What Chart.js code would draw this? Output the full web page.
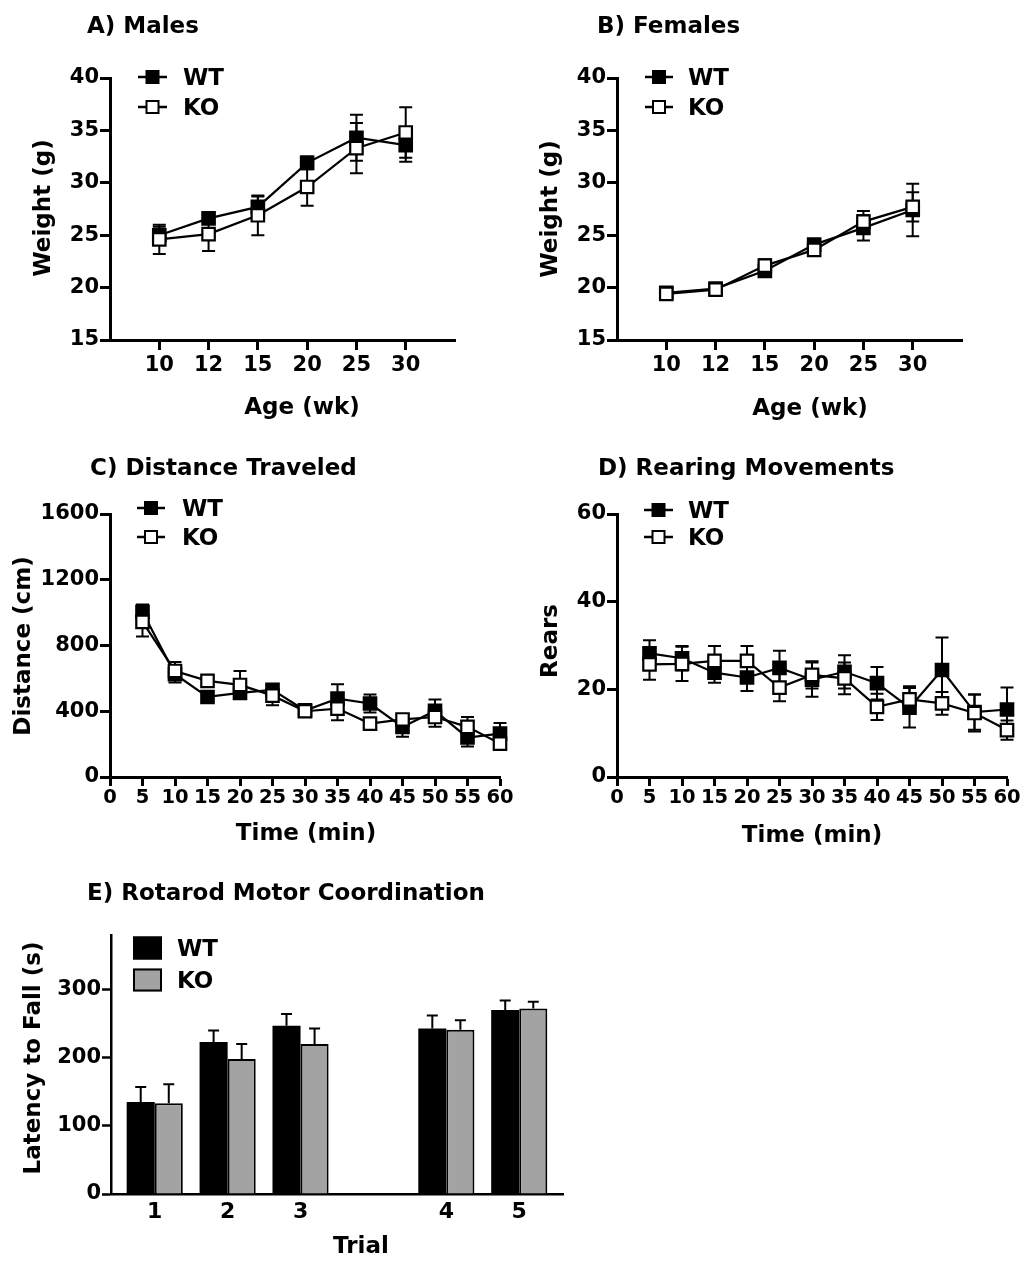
<!DOCTYPE html>
<html>
<head>
<meta charset="utf-8">
<script src="https://cdn.jsdelivr.net/npm/chart.js@4.4.1/dist/chart.umd.min.js"></script>
<style>
  html, body { margin: 0; padding: 0; background: #fff; }
  body { width: 1022px; height: 1261px; position: relative; overflow: hidden; }
  canvas { position: absolute; }
</style>
</head>
<body>
<canvas id="cA"></canvas>
<canvas id="cB"></canvas>
<canvas id="cC"></canvas>
<canvas id="cD"></canvas>
<canvas id="cE"></canvas>
<script>
// ---------------- DATA ----------------
const ageLabels = ['10', '12', '15', '20', '25', '30'];
const maleWT     = [25.0, 26.6, 27.7, 31.9, 34.3, 33.6];
const maleWTErr  = [0.8, 0.4, 1.0, 0.6, 2.2, 1.6];
const maleKO     = [24.6, 25.1, 26.9, 29.6, 33.3, 34.8];
const maleKOErr  = [1.4, 1.6, 1.9, 1.8, 2.4, 2.4];

const femaleWT    = [19.5, 19.9, 21.6, 24.1, 25.7, 27.4];
const femaleWTErr = [0.4, 0.3, 0.5, 0.5, 1.2, 2.5];
const femaleKO    = [19.4, 19.8, 22.1, 23.6, 26.3, 27.7];
const femaleKOErr = [0.4, 0.3, 0.6, 0.5, 1.0, 1.4];

const timeMin   = [5, 10, 15, 20, 25, 30, 35, 40, 45, 50, 55, 60];
const distWT    = [1005, 625, 487, 512, 530, 405, 477, 447, 305, 402, 240, 264];
const distWTErr = [45, 50, 30, 30, 28, 25, 88, 55, 60, 70, 55, 65];
const distKO    = [944, 645, 585, 560, 495, 400, 416, 325, 350, 365, 305, 203];
const distKOErr = [90, 55, 35, 85, 58, 30, 70, 30, 30, 60, 60, 30];

const rearWT    = [28.2, 27.1, 23.8, 22.7, 24.9, 22.2, 24.0, 21.4, 15.8, 24.4, 14.8, 15.4];
const rearWTErr = [3.0, 2.8, 2.3, 3.1, 3.9, 3.9, 3.8, 3.7, 4.5, 7.4, 4.0, 5.0];
const rearKO    = [25.7, 25.8, 26.5, 26.5, 20.4, 23.3, 22.5, 16.0, 17.7, 16.8, 14.6, 10.7];
const rearKOErr = [3.5, 3.9, 3.4, 3.4, 3.1, 3.1, 3.6, 3.0, 3.0, 2.6, 4.2, 2.2];

const trialLabels     = ['1', '2', '3', '4', '5'];
const trialTickLabels = ['1', '2', '3', '', '4', '5'];
const rotWT    = [135, 223, 247, 243, 270];
const rotWTErr = [22, 17, 17, 19, 14];
const rotKO    = [133, 198, 220, 241, 272];
const rotKOErr = [28, 22, 23, 14, 10];

const seriesNames = ['WT', 'KO'];

// ---------------- STYLE / HELPERS ----------------
Chart.defaults.font.family = '"DejaVu Sans", "Liberation Sans", Arial, sans-serif';
Chart.defaults.font.weight = 'bold';
Chart.defaults.color = '#000';
const FONT = '"DejaVu Sans", "Liberation Sans", Arial, sans-serif';

const decorPlugin = {
  id: 'decor',
  beforeDatasetsDraw(chart, args, o) { if (o.errMode === 'sym') drawErrors(chart, o); },
  afterDatasetsDraw(chart, args, o) { if (o.errMode === 'up') drawErrors(chart, o); },
  afterDraw(chart, args, o) {
    const ctx = chart.ctx;
    ctx.save();
    ctx.fillStyle = '#000';
    ctx.font = 'bold 23px ' + FONT;
    ctx.textBaseline = 'alphabetic';
    ctx.textAlign = 'left';
    ctx.fillText(o.title.text, o.title.x - o.L, o.title.y - o.T);
    ctx.textAlign = 'center';
    ctx.fillText(o.xTitle.text, o.xTitle.x - o.L, o.xTitle.y - o.T);
    ctx.save();
    ctx.translate(o.yTitle.x - o.L, o.yTitle.y - o.T);
    ctx.rotate(-Math.PI / 2);
    ctx.textAlign = 'center';
    ctx.fillText(o.yTitle.text, 0, 0);
    ctx.restore();
    const lg = o.legend;
    chart.data.datasets.forEach((ds, i) => {
      const y = lg.rows[i] - o.T;
      const x0 = lg.x0 - o.L, x1 = lg.x1 - o.L;
      ctx.strokeStyle = '#000';
      if (lg.type === 'line') {
        ctx.lineWidth = 2.5;
        ctx.beginPath(); ctx.moveTo(x0, y); ctx.lineTo(x1, y); ctx.stroke();
        const cx = (x0 + x1) / 2, s = 12;
        ctx.fillStyle = ds.pointBackgroundColor;
        ctx.fillRect(cx - s / 2, y - s / 2, s, s);
        ctx.lineWidth = 2;
        ctx.strokeRect(cx - s / 2, y - s / 2, s, s);
      } else {
        ctx.fillStyle = ds.backgroundColor;
        ctx.fillRect(x0, y - 11.5, x1 - x0, 23);
        ctx.lineWidth = 2;
        ctx.strokeRect(x0 + 1, y - 10.5, x1 - x0 - 2, 21);
      }
      ctx.fillStyle = '#000';
      ctx.textAlign = 'left';
      ctx.font = 'bold 23px ' + FONT;
      ctx.fillText(ds.label, lg.textX - o.L, y + 8.4);
    });
    ctx.restore();
  }
};

function drawErrors(chart, o) {
  const ctx = chart.ctx, ys = chart.scales.y;
  ctx.save();
  ctx.strokeStyle = '#000';
  ctx.lineWidth = 2;
  chart.data.datasets.forEach((ds, i) => {
    const meta = chart.getDatasetMeta(i);
    const errs = o.errors[i];
    meta.data.forEach((el, j) => {
      const v = ds.data[j].y, e = errs[j];
      const x = el.x;
      const yTop = ys.getPixelForValue(v + e);
      const yBot = o.errMode === 'sym' ? ys.getPixelForValue(v - e) : el.y;
      const h = o.capHalf;
      ctx.beginPath();
      ctx.moveTo(x, yTop); ctx.lineTo(x, yBot);
      ctx.moveTo(x - h, yTop); ctx.lineTo(x + h, yTop);
      if (o.errMode === 'sym') { ctx.moveTo(x - h, yBot); ctx.lineTo(x + h, yBot); }
      ctx.stroke();
    });
  });
  ctx.restore();
}

function placeCanvas(id, L, T, W, H) {
  const c = document.getElementById(id);
  c.width = W; c.height = H;
  c.style.left = L + 'px'; c.style.top = T + 'px';
  c.style.width = W + 'px'; c.style.height = H + 'px';
  return c;
}

function lineDataset(label, xs, ys, filled, order) {
  return {
    label: label,
    data: xs.map((x, i) => ({ x: x, y: ys[i] })),
    borderColor: '#000',
    borderWidth: 2.2,
    pointStyle: 'rect',
    pointRadius: 8.8,
    pointHoverRadius: 8.8,
    pointBorderWidth: 2.2,
    pointBorderColor: '#000',
    pointBackgroundColor: filled ? '#000' : '#fff',
    tension: 0,
    fill: false,
    clip: false,
    order: order
  };
}

function yAxis(min, max, step, width, tickFont, extra) {
  return Object.assign({
    type: 'linear', min: min, max: max,
    ticks: { stepSize: step, color: '#000', font: { size: tickFont, weight: 'bold' }, padding: 1,
             callback: v => String(v) },
    grid: { display: true, drawOnChartArea: false, drawTicks: true, tickLength: 10, tickWidth: 3, tickColor: '#000' },
    border: { display: true, color: '#000', width: 3 },
    afterFit: s => { s.width = width; }
  }, extra || {});
}

function makeLineChart(cfg) {
  const c = placeCanvas(cfg.id, cfg.L, cfg.T, cfg.W, cfg.H);
  return new Chart(c, {
    type: 'line',
    data: {
      labels: cfg.labels,
      datasets: [
        lineDataset(seriesNames[0], cfg.xs, cfg.wt, true, 1),
        lineDataset(seriesNames[1], cfg.xs, cfg.ko, false, 0)
      ]
    },
    options: {
      responsive: false, animation: false, devicePixelRatio: 1,
      layout: { padding: { left: 0, top: cfg.padTop, right: cfg.padRight, bottom: 0 } },
      plugins: {
        legend: { display: false }, title: { display: false }, tooltip: { enabled: false },
        decor: {
          L: cfg.L, T: cfg.T, errMode: 'sym', capHalf: 6.5,
          errors: [cfg.wtErr, cfg.koErr],
          title: cfg.title, xTitle: cfg.xTitle, yTitle: cfg.yTitle, legend: cfg.legend
        }
      },
      scales: {
        x: cfg.xScale,
        y: yAxis(cfg.yMin, cfg.yMax, cfg.yStep, cfg.Wy, 21)
      }
    },
    plugins: [decorPlugin]
  });
}

function ageScale(Hx) {
  return {
    type: 'category', offset: false,
    ticks: { color: '#000', font: { size: 21, weight: 'bold' }, padding: 3, autoSkip: false, maxRotation: 0 },
    grid: { display: true, drawOnChartArea: false, drawTicks: true, tickLength: 10, tickWidth: 3, tickColor: '#000' },
    border: { display: true, color: '#000', width: 3 },
    afterBuildTicks: s => { const labs = s.getLabels(); s.ticks = s.ticks.filter(t => labs[t.value] !== ''); },
    afterFit: s => { s.height = Hx; }
  };
}

function timeScale(Hx) {
  return {
    type: 'linear', min: 0, max: 60,
    ticks: { stepSize: 5, color: '#000', font: { size: 19.5, weight: 'bold' }, padding: 0, autoSkip: false, maxRotation: 0,
             callback: v => String(v) },
    grid: { display: true, drawOnChartArea: false, drawTicks: true, tickLength: 9, tickWidth: 3, tickColor: '#000' },
    border: { display: true, color: '#000', width: 3 },
    afterFit: s => { s.height = Hx; }
  };
}

const paddedAges = [''].concat(ageLabels, ['']);

makeLineChart({
  id: 'cA', L: 0, T: 0, W: 505, H: 430, Wy: 110, padTop: 78, padRight: 50,
  labels: paddedAges, xs: ageLabels, wt: maleWT, ko: maleKO, wtErr: maleWTErr, koErr: maleKOErr,
  yMin: 15, yMax: 40, yStep: 5, xScale: ageScale(90),
  title: { text: 'A) Males', x: 87, y: 33 },
  xTitle: { text: 'Age (wk)', x: 302, y: 414 },
  yTitle: { text: 'Weight (g)', x: 50, y: 208 },
  legend: { type: 'line', x0: 138, x1: 167, textX: 183, rows: [77, 107] }
});

makeLineChart({
  id: 'cB', L: 510, T: 0, W: 512, H: 430, Wy: 107, padTop: 78, padRight: 60,
  labels: paddedAges, xs: ageLabels, wt: femaleWT, ko: femaleKO, wtErr: femaleWTErr, koErr: femaleKOErr,
  yMin: 15, yMax: 40, yStep: 5, xScale: ageScale(90),
  title: { text: 'B) Females', x: 597, y: 33 },
  xTitle: { text: 'Age (wk)', x: 810, y: 415 },
  yTitle: { text: 'Weight (g)', x: 557, y: 209 },
  legend: { type: 'line', x0: 645, x1: 673, textX: 688, rows: [77, 107] }
});

makeLineChart({
  id: 'cC', L: 0, T: 435, W: 525, H: 430, Wy: 110, padTop: 79, padRight: 25,
  labels: undefined, xs: timeMin, wt: distWT, ko: distKO, wtErr: distWTErr, koErr: distKOErr,
  yMin: 0, yMax: 1600, yStep: 400, xScale: timeScale(88),
  title: { text: 'C) Distance Traveled', x: 90, y: 475 },
  xTitle: { text: 'Time (min)', x: 306, y: 840 },
  yTitle: { text: 'Distance (cm)', x: 30, y: 646 },
  legend: { type: 'line', x0: 137, x1: 165, textX: 182, rows: [508, 537] }
});

makeLineChart({
  id: 'cD', L: 525, T: 435, W: 497, H: 430, Wy: 92, padTop: 79, padRight: 15,
  labels: undefined, xs: timeMin, wt: rearWT, ko: rearKO, wtErr: rearWTErr, koErr: rearKOErr,
  yMin: 0, yMax: 60, yStep: 20, xScale: timeScale(88),
  title: { text: 'D) Rearing Movements', x: 598, y: 475 },
  xTitle: { text: 'Time (min)', x: 812, y: 842 },
  yTitle: { text: 'Rears', x: 557, y: 641 },
  legend: { type: 'line', x0: 644, x1: 673, textX: 688, rows: [510, 537] }
});

(function () {
  const L = 0, T = 865, W = 700, H = 396;
  const c = placeCanvas('cE', L, T, W, H);
  const mk = (label, vals, color) => ({
    label: label,
    data: trialLabels.map((t, i) => ({ x: t, y: vals[i] })),
    backgroundColor: color,
    borderColor: '#000',
    borderWidth: label === 'KO' ? 2 : 0,
    borderSkipped: 'bottom',
    barPercentage: 1.0,
    categoryPercentage: 0.77
  });
  new Chart(c, {
    type: 'bar',
    data: {
      labels: trialTickLabels,
      datasets: [mk(seriesNames[0], rotWT, '#000'), mk(seriesNames[1], rotKO, '#a3a3a3')]
    },
    options: {
      responsive: false, animation: false, devicePixelRatio: 1,
      layout: { padding: { left: 0, top: 70, right: 137, bottom: 0 } },
      plugins: {
        legend: { display: false }, title: { display: false }, tooltip: { enabled: false },
        decor: {
          L: L, T: T, errMode: 'up', capHalf: 5.5,
          errors: [rotWTErr, rotKOErr],
          title: { text: 'E) Rotarod Motor Coordination', x: 87, y: 900 },
          xTitle: { text: 'Trial', x: 361, y: 1253 },
          yTitle: { text: 'Latency to Fall (s)', x: 40, y: 1058 },
          legend: { type: 'box', x0: 133, x1: 162, textX: 177, rows: [948, 980] }
        }
      },
      scales: {
        x: {
          type: 'category', offset: true,
          ticks: { color: '#000', font: { size: 22, weight: 'bold' }, padding: 5, autoSkip: false, maxRotation: 0 },
          grid: { display: false, drawTicks: false },
          border: { display: true, color: '#000', width: 2.5 },
          afterBuildTicks: s => {
            if (typeof s._startValue === 'number') { s._startValue -= 0.1; s._valueRange += 0.2; }
          },
          afterFit: s => { s.height = 67; }
        },
        y: yAxis(0, 380, 100, 111, 21, {
          afterBuildTicks: s => { s.ticks = s.ticks.filter(t => t.value % 100 === 0); },
          border: { display: true, color: '#000', width: 2.5 },
          grid: { display: true, drawOnChartArea: false, drawTicks: true, tickLength: 9, tickWidth: 2.5, tickColor: '#000' }
        })
      }
    },
    plugins: [decorPlugin]
  });
})();
</script>
</body>
</html>
